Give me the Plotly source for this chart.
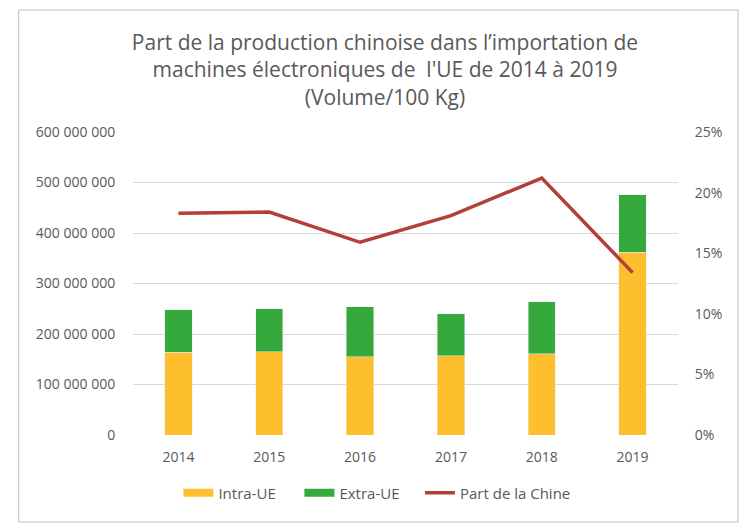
import plotly.graph_objects as go

years = ["2014", "2015", "2016", "2017", "2018", "2019"]
intra_ue = [164e6, 165e6, 155e6, 157e6, 161e6, 362e6]
extra_ue = [84e6, 85e6, 99e6, 83e6, 103e6, 114e6]
part_chine = [0.183, 0.184, 0.159, 0.181, 0.212, 0.134]

left_tickvals = [0, 100e6, 200e6, 300e6, 400e6, 500e6, 600e6]
left_ticktext = ["0", "100 000 000", "200 000 000", "300 000 000",
                 "400 000 000", "500 000 000", "600 000 000"]
right_tickvals = [0, 0.05, 0.10, 0.15, 0.20, 0.25]
right_ticktext = ["0%", "5%", "10%", "15%", "20%", "25%"]

FONT = "Open Sans"
GRAY = "#595959"
YELLOW = "#FDBF2D"
GREEN = "#36A93D"
RED = "#B23F3A"

fig = go.Figure()
fig.add_trace(go.Bar(x=years, y=intra_ue, name="Intra-UE", legendgroup="intra",
                     showlegend=False, marker=dict(color=YELLOW), width=0.3))
fig.add_trace(go.Bar(x=years, y=extra_ue, name="Extra-UE", legendgroup="extra",
                     showlegend=False, marker=dict(color=GREEN), width=0.3))
# legend keys drawn as wide flat rectangles (as in the reference)
fig.add_trace(go.Scatter(x=[None], y=[None], name="Intra-UE", legendgroup="intra",
                         mode="lines", line=dict(color=YELLOW, width=8)))
fig.add_trace(go.Scatter(x=[None], y=[None], name="Extra-UE", legendgroup="extra",
                         mode="lines", line=dict(color=GREEN, width=8)))
fig.add_trace(go.Scatter(x=years, y=part_chine, name="Part de la Chine",
                         mode="lines", yaxis="y2", legend="legend2",
                         line=dict(color=RED, width=3.5)))

# page body has an 8px margin: positions below are in figure coordinates
W, H = 754, 530
L, R, T, B = 124.5, 83.5, 124, 103
pw, ph = W - L - R, H - T - B

def px_x(p):
    return (p - L) / pw

def px_y(p):
    return (H - B - p) / ph

legend_common = dict(orientation="h", xanchor="left", yanchor="middle",
                     y=px_y(485), traceorder="normal",
                     font=dict(size=15, color=GRAY), itemwidth=30,
                     bgcolor="rgba(0,0,0,0)")

fig.update_layout(
    width=W, height=H,
    margin=dict(l=L, r=R, t=T, b=B, autoexpand=False),
    barmode="stack",
    paper_bgcolor="white", plot_bgcolor="white",
    font=dict(family=FONT, color=GRAY, size=14),
    title=dict(
        text="Part de la production chinoise dans l’importation de<br>"
             "machines électroniques de  l'UE de 2014 à 2019<br>(Volume/100 Kg)",
        x=0.5, xref="container", xanchor="center",
        y=1 - 42 / H, yref="container", yanchor="top",
        font=dict(family=FONT, size=21, color=GRAY),
    ),
    xaxis=dict(showgrid=False, showline=False, ticks="outside", ticklen=9,
               tickcolor="rgba(0,0,0,0)",
               tickfont=dict(size=14, color=GRAY)),
    yaxis=dict(range=[0, 600e6], tickvals=left_tickvals, ticktext=left_ticktext,
               showgrid=True, gridcolor="#D9D9D9", gridwidth=1,
               zeroline=False, showline=False, ticks="outside", ticklen=14,
               tickcolor="rgba(0,0,0,0)",
               tickfont=dict(size=14, color=GRAY)),
    yaxis2=dict(range=[0, 0.25], tickvals=right_tickvals, ticktext=right_ticktext,
                overlaying="y", side="right", showgrid=False, zeroline=False,
                showline=False, ticks="outside", ticklen=13,
                tickcolor="rgba(0,0,0,0)",
                tickfont=dict(size=14, color=GRAY)),
    legend=dict(x=px_x(170), entrywidth=76, entrywidthmode="pixels",
                **legend_common),
    legend2=dict(x=px_x(412), **legend_common),
    showlegend=True,
    shapes=[dict(type="rect", xref="paper", yref="paper",
                 x0=px_x(10), x1=px_x(730.7), y0=px_y(514), y1=px_y(2),
                 line=dict(color="#BFBFBF", width=1), layer="below")],
)

fig.write_html("out.html")
